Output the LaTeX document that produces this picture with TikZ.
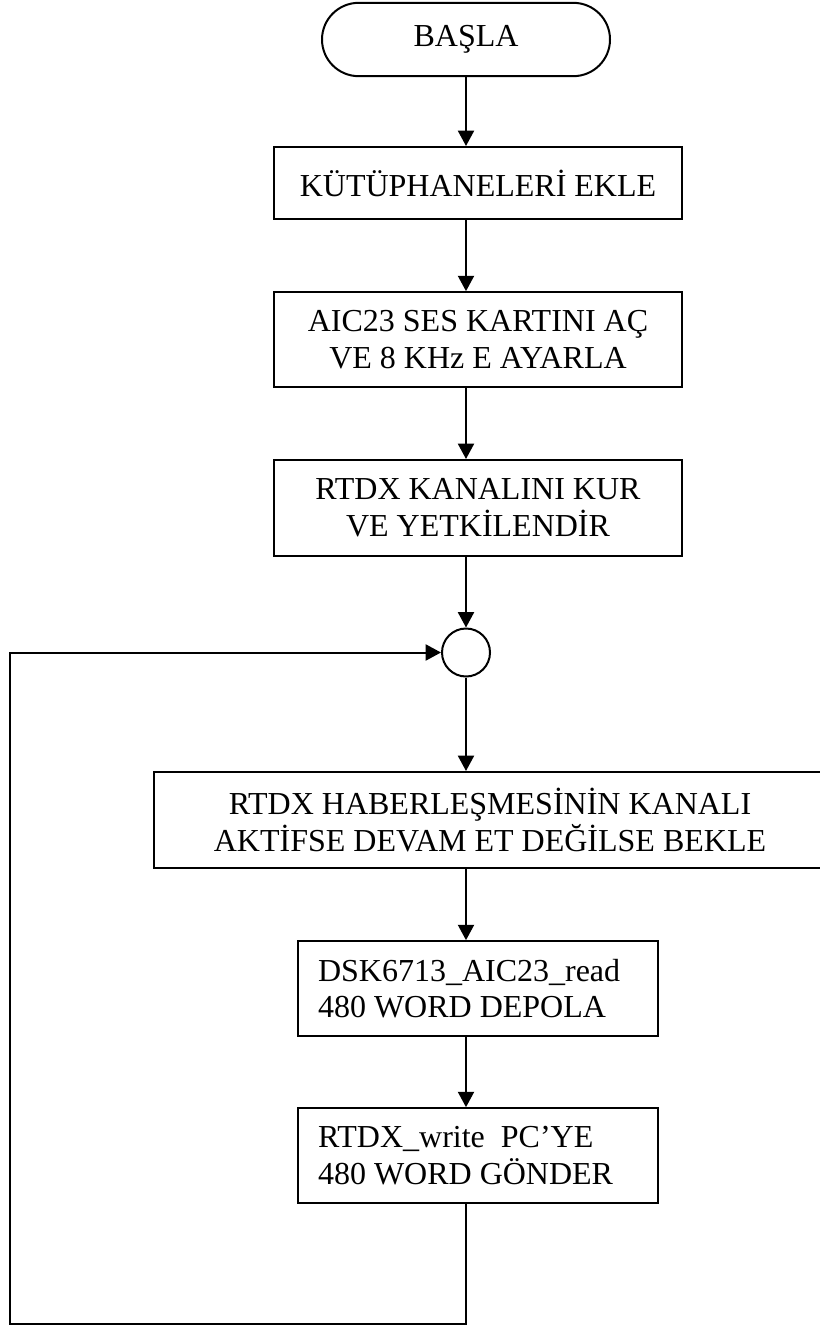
\documentclass[tikz,border=0pt]{standalone}
\usepackage{fontspec}
\setmainfont{Liberation Serif}
\usetikzlibrary{shapes,arrows,arrows.meta,positioning}
\tikzstyle{l1}=[line width=1.5pt]
\tikzstyle{arr}=[l1, -{Triangle[length=11.5pt,width=12pt]}]
\tikzstyle{box}=[rectangle, draw=black, l1, inner sep=0pt, align=center, font=\fontsize{24pt}{27.5pt}\selectfont]
\tikzstyle{lbox}=[box, align=flush left, inner xsep=15pt, anchor=center]
\tikzstyle{term}=[rounded rectangle, draw=black, l1, inner sep=0pt, minimum width=216pt, minimum height=55pt, font=\fontsize{24pt}{27.5pt}\selectfont]
\tikzstyle{joint}=[circle, draw=black, l1, inner sep=0pt, minimum size=36pt]

\begin{document}
\begin{tikzpicture}[x=0.75pt, y=-0.75pt]

    \useasboundingbox (0,0) rectangle (819,1327);

    \coordinate (col) at (466,0);

    \node[term] (basla) at (466,39.5) {BAŞLA};
    \node[box, minimum width=306pt, minimum height=54pt] (kut) at (478,183) {KÜTÜPHANELERİ EKLE};
    \node[box, minimum width=306pt, minimum height=71pt] (aic) at (478,339.5) {AIC23 SES KARTINI AÇ\\VE 8 KHz E AYARLA};
    \node[box, minimum width=306pt, minimum height=72pt] (rtdx) at (478,508) {RTDX KANALINI KUR\\VE YETKİLENDİR};
    \node[joint] (join) at (466,652.5) {};
    \node[box, minimum width=504pt, minimum height=72pt] (hab) at (490,820) {RTDX HABERLEŞMESİNİN KANALI\\AKTİFSE DEVAM ET DEĞİLSE BEKLE};
    \node[lbox, text width=240pt, minimum height=71pt] (dsk) at (478,988.5) {DSK6713\_AIC23\_read\\480 WORD DEPOLA};
    \node[lbox, text width=240pt, minimum height=71pt] (wr) at (478,1155.5) {RTDX\_write~ PC’YE\\480 WORD GÖNDER};

    % main column
    \draw[arr] (basla.south) -- (kut.north -| col);
    \draw[arr] (kut.south -| col) -- (aic.north -| col);
    \draw[arr] (aic.south -| col) -- (rtdx.north -| col);
    \draw[arr] (rtdx.south -| col) -- (join.north);
    \draw[arr] (join.south) -- (hab.north -| col);
    \draw[arr] (hab.south -| col) -- (dsk.north -| col);
    \draw[arr] (dsk.south -| col) -- (wr.north -| col);

    % loop back
    \coordinate (lp) at (10,1324);
    \draw[arr] (wr.south -| col) -- (col |- lp) -- (lp) |- (join.west);

\end{tikzpicture}
\end{document}
